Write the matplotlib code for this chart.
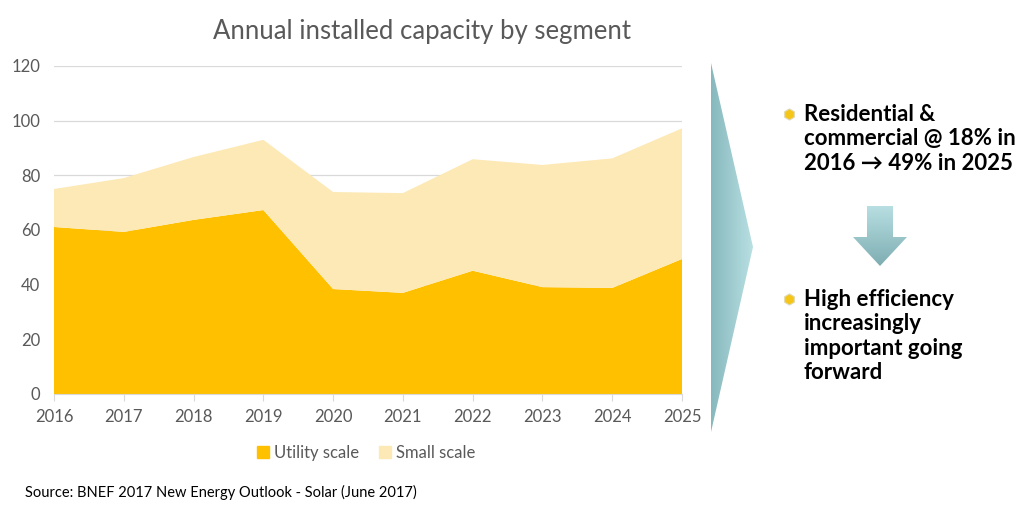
import numpy as np
import matplotlib
matplotlib.use("Agg")
import matplotlib.pyplot as plt
from matplotlib.patches import Polygon, Rectangle

years = [2016, 2017, 2018, 2019, 2020, 2021, 2022, 2023, 2024, 2025]
utility_scale = [61.1, 59.3, 63.7, 67.3, 38.4, 37.0, 45.1, 39.1, 38.8, 49.4]
small_scale = [13.9, 19.7, 23.0, 25.7, 35.5, 36.5, 40.8, 44.7, 47.4, 47.8]
y_ticks = [0, 20, 40, 60, 80, 100, 120]

title = "Annual installed capacity by segment"
legend_labels = ["Utility scale", "Small scale"]
source = "Source: BNEF 2017 New Energy Outlook - Solar (June 2017)"
bullet1 = "Residential &\ncommercial @ 18% in\n2016 \u2192 49% in 2025"
bullet2 = "High efficiency\nincreasingly\nimportant going\nforward"

DARK = "#FFC000"
LIGHT = "#FDE9B5"
GRAY = "#595959"
FONT = ["Lato", "DejaVu Sans"]
plt.rcParams['font.family'] = FONT

W, H = 1024, 514
fig = plt.figure(figsize=(W / 100, H / 100), dpi=100)
fig.patch.set_facecolor("white")

def px(x0, y0, x1, y1):
    return [x0 / W, 1 - y1 / H, (x1 - x0) / W, (y1 - y0) / H]

ax = fig.add_axes(px(54, 66, 682, 394))
ax.stackplot(years, utility_scale, small_scale, colors=[DARK, LIGHT], linewidth=0, zorder=2)
ax.set_xlim(years[0], years[-1])
ax.set_ylim(0, 120)
ax.set_yticks(y_ticks)
ax.set_xticks(years)
ax.grid(axis="y", color="#D9D9D9", linewidth=0.9, zorder=0)
ax.set_axisbelow(True)
for s in ["top", "right", "left"]:
    ax.spines[s].set_visible(False)
ax.spines["bottom"].set_color("#D9D9D9")
ax.spines["bottom"].set_zorder(3)
ax.tick_params(axis="y", length=0, pad=10, labelsize=12, labelcolor=GRAY)
ax.tick_params(axis="x", length=5, color="#D9D9D9", pad=6, labelsize=12, labelcolor=GRAY)

fig.text(422 / W, 1 - 31 / H, title, ha="center", va="center", fontsize=18.5, color=GRAY)

# legend
handles = [Rectangle((0, 0), 1, 1, color=DARK), Rectangle((0, 0), 1, 1, color=LIGHT)]
fig.legend(handles, legend_labels, loc="center", bbox_to_anchor=(366 / W, 1 - 453 / H),
           ncol=2, frameon=False, fontsize=12, labelcolor=GRAY, handlelength=0.7,
           handleheight=0.7, handletextpad=0.3, columnspacing=1.2)

fig.text(25 / W, 1 - 492 / H, source, ha="left", va="center", fontsize=10.5, color="black")

# overlay for decorations
ov = fig.add_axes([0, 0, 1, 1])
ov.set_xlim(0, W)
ov.set_ylim(H, 0)
ov.axis("off")
ov.patch.set_alpha(0)

def gradient_poly(pts, c0, c1, horizontal=True):
    poly = Polygon(pts, closed=True, facecolor="none", edgecolor="none")
    ov.add_patch(poly)
    xs = [p[0] for p in pts]; ys = [p[1] for p in pts]
    if horizontal:
        g = np.linspace(0, 1, 256).reshape(1, -1)
    else:
        g = np.linspace(0, 1, 256).reshape(-1, 1)
    cmap = matplotlib.colors.LinearSegmentedColormap.from_list("g", [c0, c1])
    im = ov.imshow(g, cmap=cmap, extent=(min(xs), max(xs), max(ys), min(ys)),
                   aspect="auto", interpolation="bilinear", zorder=1)
    im.set_clip_path(poly)

gradient_poly([(711, 63), (753, 247), (711, 432)], "#86B8BD", "#B9E0E3", horizontal=True)
gradient_poly([(867, 206), (893, 206), (893, 237), (907, 237), (880, 266), (853, 237), (867, 237)],
              "#B8DFE2", "#7DADB2", horizontal=False)

# bullets
for yb in [114, 299]:
    ov.plot([789], [yb], marker="h", markersize=8, color="#F5C518",
            markeredgecolor="#E0D9B0", markeredgewidth=0.8, zorder=3)
ov.text(804, 104, bullet1, ha="left", va="top", fontsize=16, fontweight="bold",
        color="black", linespacing=1.2)
ov.text(804, 289, bullet2, ha="left", va="top", fontsize=16, fontweight="bold",
        color="black", linespacing=1.2)
ov.set_xlim(0, W)
ov.set_ylim(H, 0)

fig.savefig("out.png", dpi=100, facecolor="white")
